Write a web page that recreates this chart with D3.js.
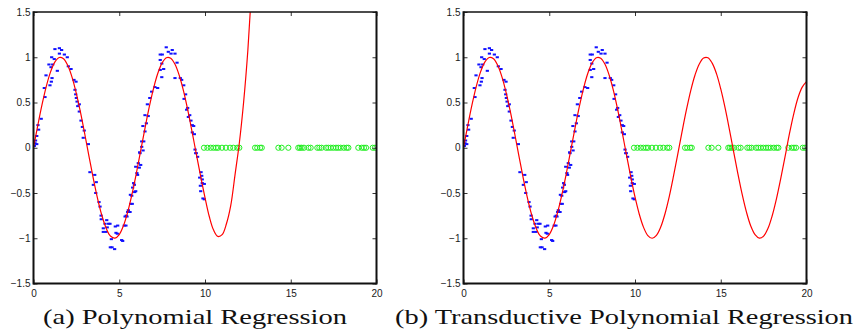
<!DOCTYPE html>
<html>
<head>
<meta charset="utf-8">
<script src="https://cdn.jsdelivr.net/npm/d3@7"></script>
<style>
  html, body { margin: 0; padding: 0; background: #fff; }
  svg { display: block; }
  .tick-label { font-family: "Liberation Sans", Arial, sans-serif; font-size: 10px; fill: #1a1a1a; }
  .caption { font-family: "Liberation Serif", "Times New Roman", serif; font-size: 21px; fill: #111; }
</style>
</head>
<body>
<svg id="chart" width="859" height="335"></svg>
<script>
// ---- data ----
const xTicks = [0, 5, 10, 15, 20];
const yTicks = [-1.5, -1, -0.5, 0, 0.5, 1, 1.5];
const yTickLabels = ["\u22121.5", "\u22121", "\u22120.5", "0", "0.5", "1", "1.5"];
const captions = ["(a) Polynomial Regression", "(b) Transductive Polynomial Regression"];

// labelled training samples (blue)
const trainX = [0.05,0.09,0.19,0.12,0.19,0.30,0.26,0.45,0.67,0.63,0.73,0.90,0.96,1.04,1.08,1.02,1.12,1.06,1.21,1.25,
  1.39,1.51,1.51,1.64,1.80,1.97,2.03,2.19,2.36,2.48,2.42,2.46,2.50,2.54,2.67,2.58,2.67,2.77,2.85,2.96,2.90,3.20,
  3.29,3.57,3.49,3.66,3.63,3.82,3.88,3.94,3.95,4.27,4.17,4.38,4.46,4.07,4.30,4.07,4.23,4.77,4.91,4.81,4.89,4.54,
  4.48,4.58,4.73,5.14,5.20,5.29,5.39,5.34,5.41,5.45,5.49,5.53,5.67,5.76,5.65,5.73,5.90,5.96,5.88,6.03,5.96,6.11,
  6.25,6.21,6.39,5.84,6.07,6.17,5.78,5.63,
  6.19,6.31,6.31,6.43,6.50,6.58,6.38,6.50,6.69,6.64,6.78,6.89,7.08,7.24,7.48,7.39,7.59,7.39,7.48,7.39,7.51,7.74,
  7.86,8.09,8.02,8.25,8.37,8.25,8.56,8.64,8.76,8.87,8.99,9.11,9.18,9.26,9.34,9.26,9.38,9.42,9.46,9.49,9.57,
  9.77,9.81,9.84,9.69,9.84,9.73,9.96,9.75,9.88,9.96,8.78,8.93,9.03];
const trainY = [0.02,0.05,0.04,0.08,0.13,0.20,0.25,0.32,0.56,0.66,0.80,0.92,0.69,0.73,0.77,0.89,0.92,1.00,0.98,1.09,
  0.85,1.04,1.10,1.08,1.03,1.00,0.90,0.87,0.75,0.73,0.64,0.59,0.55,0.51,0.48,0.46,0.40,0.30,0.23,0.19,0.11,0.04,
  -0.27,-0.30,-0.41,-0.38,-0.50,-0.60,-0.65,-0.75,-0.79,-0.80,-0.84,-0.84,-0.84,-0.89,-0.88,-0.93,-0.93,-0.87,-0.86,-0.94,-0.95,-1.01,
  -1.10,-1.10,-1.12,-1.02,-1.03,-0.86,-0.86,-0.76,-0.75,-0.76,-0.71,-0.69,-0.62,-0.62,-0.52,-0.53,-0.49,-0.48,-0.41,-0.28,-0.21,-0.17,
  -0.19,-0.06,-0.03,-0.39,-0.30,-0.22,-0.44,-0.71,
  -0.05,0.01,0.07,0.07,0.18,0.27,0.24,0.36,0.35,0.48,0.55,0.62,0.67,0.66,0.78,0.86,0.87,0.97,0.93,1.03,1.03,1.11,
  1.06,1.08,1.04,1.04,0.94,0.77,0.77,0.75,0.69,0.59,0.44,0.36,0.30,0.25,0.24,0.17,0.15,-0.02,-0.06,-0.06,-0.10,
  -0.27,-0.31,-0.35,-0.33,-0.39,-0.42,-0.40,-0.48,-0.56,-0.57,0.54,0.42,0.34];

// unlabelled test inputs (green, drawn at zero)
const testX = [9.94,10.14,10.33,10.49,10.64,10.76,10.99,11.22,11.46,11.65,11.88,12.00,12.92,13.05,13.21,13.31,
  14.28,14.47,14.86,15.44,15.54,15.64,15.77,16.03,16.16,16.55,16.67,16.80,17.06,17.19,17.33,17.48,17.64,17.77,
  17.91,18.10,18.26,18.36,18.94,19.14,19.27,19.39,19.78,19.91];

// fitted curve samples
const fitX = [0,0.25,0.5,0.75,1,1.25,1.5,1.75,2,2.25,2.5,2.75,3,3.25,3.5,3.75,4,4.25,4.5,4.75,5,5.25,5.5,5.75,
  6,6.25,6.5,6.75,7,7.25,7.5,7.75,8,8.25,8.5,8.75,9,9.25,9.5,9.75,10,10.25,10.5,10.75,11,11.25,11.5,11.75,
  12,12.25,12.5,12.75,13,13.25,13.5,13.75,14,14.25,14.5,14.75,15,15.25,15.5,15.75,16,16.25,16.5,16.75,17,
  17.25,17.5,17.75,18,18.25,18.5,18.75,19,19.25,19.5,19.75,20];
// (a) ordinary polynomial fit: follows the data, then diverges past x = 12
const polyY = [0,0.247,0.479,0.682,0.841,0.949,0.997,0.984,0.909,0.778,0.598,0.382,0.141,-0.108,-0.351,-0.572,
  -0.757,-0.895,-0.978,-0.999,-0.959,-0.859,-0.706,-0.508,-0.279,-0.033,0.215,0.451,0.657,0.823,0.938,0.995,
  0.989,0.922,0.798,0.625,0.412,0.173,-0.075,-0.319,-0.55,-0.76,-0.91,-0.98,-0.96,-0.84,-0.64,-0.30,
  0.05,0.50,1.08,1.85,2.8];
// (b) transductive polynomial fit over the whole range
const transY = [0,0.247,0.479,0.682,0.841,0.949,0.997,0.984,0.909,0.778,0.598,0.382,0.141,-0.108,-0.351,-0.572,
  -0.757,-0.895,-0.978,-0.999,-0.959,-0.859,-0.706,-0.508,-0.279,-0.033,0.215,0.451,0.657,0.823,0.938,0.995,
  0.989,0.922,0.798,0.625,0.412,0.173,-0.075,-0.319,-0.544,-0.735,-0.880,-0.970,-1.000,-0.968,-0.876,-0.729,
  -0.537,-0.309,-0.066,0.183,0.420,0.632,0.804,0.926,0.991,0.994,0.935,0.819,0.650,0.443,0.207,-0.042,
  -0.288,-0.516,-0.712,-0.865,-0.961,-0.999,-0.976,-0.893,-0.751,-0.562,-0.338,-0.099,0.150,0.37,0.55,0.67,0.73];

// ---- layout ----
const svg = d3.select("#chart");
const plotTop = 12, plotBottom = 283.5;
const panels = [
  { x0: 33.5, x1: 376.5, curveY: polyY, caption: captions[0], capX: 43, capW: 304 },
  { x0: 463.5, x1: 806.5, curveY: transY, caption: captions[1], capX: 395, capW: 458 }
];

panels.forEach((p, i) => {
  const x = d3.scaleLinear().domain([0, 20]).range([p.x0, p.x1]);
  const y = d3.scaleLinear().domain([-1.5, 1.5]).range([plotBottom, plotTop]);
  const g = svg.append("g");

  const clipId = "clip" + i;
  svg.append("clipPath").attr("id", clipId)
    .append("rect").attr("x", p.x0).attr("y", plotTop).attr("width", p.x1 - p.x0).attr("height", plotBottom - plotTop);

  const plot = g.append("g").attr("clip-path", `url(#${clipId})`);

  // test inputs
  plot.selectAll("circle.test").data(testX).join("circle")
    .attr("class", "test")
    .attr("cx", d => x(d)).attr("cy", y(0)).attr("r", 2.6)
    .attr("fill", "none").attr("stroke", "#22ee22").attr("stroke-width", 1);

  // training samples
  plot.selectAll("rect.train").data(d3.range(trainX.length)).join("rect")
    .attr("class", "train")
    .attr("x", k => x(trainX[k]) - 1.6).attr("y", k => y(trainY[k]) - 1)
    .attr("width", 3.2).attr("height", 2)
    .attr("fill", "#1010ff");

  // fitted curve
  const pts = p.curveY.map((v, k) => [fitX[k], v]);
  plot.append("path")
    .datum(pts)
    .attr("fill", "none").attr("stroke", "#ff0000").attr("stroke-width", 1.2)
    .attr("d", d3.line().x(d => x(d[0])).y(d => y(d[1])).curve(d3.curveCatmullRom.alpha(0.5)));

  // axes (inward ticks, box on)
  const tickLen = 4;
  const axB = g.append("g").attr("transform", `translate(0,${plotBottom})`)
    .call(d3.axisBottom(x).tickValues(xTicks).tickSize(-tickLen).tickPadding(6).tickFormat(d3.format("d")));
  const axT = g.append("g").attr("transform", `translate(0,${plotTop})`)
    .call(d3.axisTop(x).tickValues(xTicks).tickSize(-tickLen).tickFormat(""));
  const axL = g.append("g").attr("transform", `translate(${p.x0},0)`)
    .call(d3.axisLeft(y).tickValues(yTicks).tickSize(-tickLen).tickPadding(3)
      .tickFormat((d, k) => yTickLabels[k]));
  const axR = g.append("g").attr("transform", `translate(${p.x1},0)`)
    .call(d3.axisRight(y).tickValues(yTicks).tickSize(-tickLen).tickFormat(""));

  [axB, axT, axL, axR].forEach(a => {
    a.select(".domain").remove();
    a.selectAll(".tick line").attr("stroke", "#333").attr("stroke-width", 1);
    a.selectAll(".tick text").attr("class", "tick-label").attr("font-family", null).attr("font-size", null);
  });

  // frame
  g.append("line").attr("x1", p.x0).attr("x2", p.x1).attr("y1", plotTop).attr("y2", plotTop)
    .attr("stroke", "#111").attr("stroke-width", 1.4);
  g.append("line").attr("x1", p.x0).attr("x2", p.x1).attr("y1", plotBottom).attr("y2", plotBottom)
    .attr("stroke", "#111").attr("stroke-width", 2);
  g.append("line").attr("x1", p.x0).attr("x2", p.x0).attr("y1", plotTop - 0.7).attr("y2", plotBottom + 1)
    .attr("stroke", "#111").attr("stroke-width", 2);
  g.append("line").attr("x1", p.x1).attr("x2", p.x1).attr("y1", plotTop - 0.7).attr("y2", plotBottom + 1)
    .attr("stroke", "#111").attr("stroke-width", 2);

  // caption
  svg.append("text").attr("class", "caption")
    .attr("x", p.capX).attr("y", 324)
    .attr("textLength", p.capW).attr("lengthAdjust", "spacingAndGlyphs")
    .text(p.caption);
});
</script>
</body>
</html>
